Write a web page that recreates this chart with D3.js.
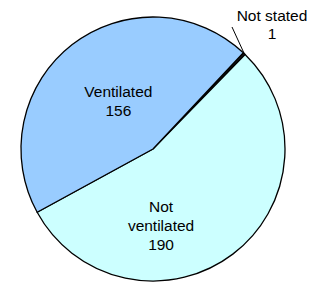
<!DOCTYPE html>
<html>
<head>
<meta charset="utf-8">
<script src="https://cdn.jsdelivr.net/npm/d3@7"></script>
<style>
  body { margin: 0; background: #fff; }
  text { font-family: "Liberation Sans", Arial, sans-serif; font-size: 15.5px; fill: #000; }
</style>
</head>
<body>
<svg id="myGraph" width="322" height="282"></svg>
<script>
// 데이터
var categories = ["Not stated", "Not ventilated", "Ventilated"];
var values = [1, 190, 156];
var colors = ["#1a1a1a", "#ccffff", "#99ccff"];

var cx = 153, cy = 149;   // 원 중심
var radius = 132;
var startDeg = 43.2;      // 시작 각도 (12시 기준 시계방향)

var svg = d3.select("#myGraph");

var pie = d3.pie().sort(null)
  .startAngle(startDeg * Math.PI / 180)
  .endAngle((startDeg + 360) * Math.PI / 180);
var arc = d3.arc().innerRadius(0).outerRadius(radius);

var arcs = pie(values);

var g = svg.append("g").attr("transform", "translate(" + cx + "," + cy + ")");

g.selectAll("path")
  .data(arcs)
  .enter()
  .append("path")
  .attr("d", arc)
  .style("fill", function(d, i) { return colors[i]; })
  .style("stroke", "#000")
  .style("stroke-width", 1.3)
  .style("stroke-linejoin", "round");

// 레이블 위치 (각도, 반지름) - 그림에서 읽은 값
var labelPos = [null, { deg: 174, r: 77 }, { deg: 324, r: 59 }];
function polar(deg, r) {
  var a = deg * Math.PI / 180;
  return [Math.sin(a) * r, -Math.cos(a) * r];
}

var lineH = 18.7;
arcs.forEach(function(d, i) {
  if (i === 0) return;
  var p = polar(labelPos[i].deg, labelPos[i].r);
  var words = categories[i] === "Not ventilated" ? ["Not", "ventilated"] : [categories[i]];
  var lines = words.concat([String(values[i])]);
  var t = g.append("text")
    .attr("text-anchor", "middle")
    .attr("x", p[0])
    .attr("y", p[1] - (lines.length - 1) * lineH / 2 + 5.5);
  lines.forEach(function(s, k) {
    t.append("tspan").attr("x", p[0]).attr("dy", k === 0 ? 0 : lineH).text(s);
  });
});

// Not stated: 바깥 레이블 + 지시선
var small = arcs[0];
var mid = (small.startAngle + small.endAngle) / 2 * 180 / Math.PI;
var p0 = polar(mid, radius);
g.append("line")
  .attr("x1", p0[0]).attr("y1", p0[1])
  .attr("x2", 232 - cx).attr("y2", 27 - cy)
  .style("stroke", "#000").style("stroke-width", 1);

var t0 = svg.append("text").attr("text-anchor", "middle").attr("x", 272).attr("y", 20.5);
t0.append("tspan").attr("x", 272).text(categories[0]);
t0.append("tspan").attr("x", 272).attr("dy", lineH).text(String(values[0]));
</script>
</body>
</html>
